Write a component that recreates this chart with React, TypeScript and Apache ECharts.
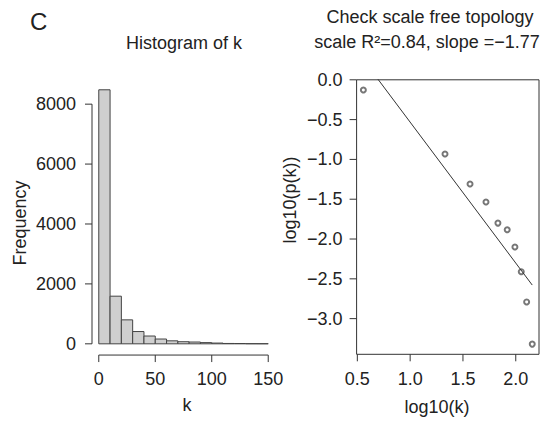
import React, { useEffect, useRef } from "react";
import * as echarts from "echarts";

// Histogram of k (bins of width 10 from 0 to 150)
const binStarts = [0, 10, 20, 30, 40, 50, 60, 70, 80, 90, 100, 110, 120, 130, 140];
const binWidth = 10;
const binCounts = [8480, 1590, 800, 410, 260, 160, 100, 70, 60, 40, 25, 12, 10, 5, 4];
const histYTicks = [0, 2000, 4000, 6000, 8000];
const histXTicks = [0, 50, 100, 150];

// Scale free topology
const logK = [0.557, 1.33, 1.567, 1.718, 1.831, 1.919, 1.992, 2.052, 2.103, 2.156];
const logPk = [-0.128, -0.932, -1.309, -1.535, -1.8, -1.883, -2.1, -2.41, -2.79, -3.32];
const fitSlope = -1.77;
const fitIntercept = 1.238;
const sfXTicks = [0.5, 1.0, 1.5, 2.0];
const sfYTicks = [-3.0, -2.5, -2.0, -1.5, -1.0, -0.5, 0.0];

const FONT = "'Liberation Sans', Arial, Helvetica, sans-serif";
const TEXT = "#222222";
const AXIS = "#333333";

const H_XMIN = -6;
const H_XMAX = 156;
const H_YMIN = -340;
const H_YMAX = 8840;
const H_XLINE = -375;
const S_XMIN = 0.493;
const S_XMAX = 2.22;
const S_YMIN = -3.448;
const S_YMAX = 0.0;

const fmt1 = (v: number) => {
  const s = Math.abs(v).toFixed(1);
  return v < -1e-9 ? "\u2212" + s : s;
};

const TICK_LEN = 7;

function tickSeries(
  xAxisIndex: number,
  points: number[][],
  dir: "left" | "down"
) {
  return {
    type: "custom",
    xAxisIndex,
    yAxisIndex: xAxisIndex,
    data: points,
    silent: true,
    clip: false,
    renderItem: (params: any, api: any) => {
      const p = api.coord([api.value(0), api.value(1)]);
      const shape =
        dir === "left"
          ? { x1: p[0] - TICK_LEN, y1: p[1], x2: p[0], y2: p[1] }
          : { x1: p[0], y1: p[1], x2: p[0], y2: p[1] + TICK_LEN };
      return {
        type: "line",
        shape,
        style: { stroke: AXIS, lineWidth: 1 },
      };
    },
  };
}

export default function App() {
  const ref = useRef<HTMLDivElement>(null);
  useEffect(() => {
    if (!ref.current) return;
    const chart = echarts.init(ref.current, null, { renderer: "svg" });
    const histData = binStarts.map((s, i) => [s, s + binWidth, binCounts[i]]);
    const scatterData = logK.map((x, i) => [x, logPk[i]]);
    const x0 = logK[0];
    const x1 = logK[logK.length - 1];
    const fitData = [
      [x0, fitIntercept + fitSlope * x0],
      [x1, fitIntercept + fitSlope * x1],
    ];
    const axisLabelStyle = { color: TEXT, fontSize: 18, fontFamily: FONT };
    const baseAxis = {
      type: "value",
      splitLine: { show: false },
      axisLine: { show: false },
      axisTick: { show: false },
    };
    chart.setOption({
      animation: false,
      backgroundColor: "#ffffff",
      grid: [
        { left: 92, top: 79, width: 183, height: 275, containLabel: false },
        {
          left: 356.6,
          top: 79.8,
          width: 182.4,
          height: 274.5,
          containLabel: false,
          show: true,
          borderColor: AXIS,
          borderWidth: 1,
          backgroundColor: "transparent",
        },
      ],
      xAxis: [
        {
          ...baseAxis,
          gridIndex: 0,
          min: H_XMIN,
          max: H_XMAX,
          axisLabel: {
            ...axisLabelStyle,
            margin: 16,
            customValues: histXTicks,
            formatter: (v: number) => String(v),
          },
        },
        {
          ...baseAxis,
          gridIndex: 1,
          min: S_XMIN,
          max: S_XMAX,
          axisLabel: {
            ...axisLabelStyle,
            margin: 16,
            customValues: sfXTicks,
            formatter: (v: number) => fmt1(v),
          },
        },
      ],
      yAxis: [
        {
          ...baseAxis,
          gridIndex: 0,
          min: H_YMIN,
          max: H_YMAX,
          axisLabel: {
            ...axisLabelStyle,
            margin: 16,
            customValues: histYTicks,
            formatter: (v: number) => String(v),
          },
        },
        {
          ...baseAxis,
          gridIndex: 1,
          min: S_YMIN,
          max: S_YMAX,
          axisLabel: {
            ...axisLabelStyle,
            margin: 14,
            customValues: sfYTicks,
            formatter: (v: number) => fmt1(v),
          },
        },
      ],
      series: [
        {
          type: "custom",
          xAxisIndex: 0,
          yAxisIndex: 0,
          data: histData,
          silent: true,
          renderItem: (params: any, api: any) => {
            const a = api.coord([api.value(0), api.value(2)]);
            const b = api.coord([api.value(1), 0]);
            return {
              type: "rect",
              shape: { x: a[0], y: a[1], width: b[0] - a[0], height: b[1] - a[1] },
              style: { fill: "#cfcfcf", stroke: "#444444", lineWidth: 1 },
            };
          },
        },
        {
          // y axis line (from first to last tick), R style
          type: "line",
          xAxisIndex: 0,
          yAxisIndex: 0,
          data: [
            [H_XMIN, histYTicks[0]],
            [H_XMIN, histYTicks[histYTicks.length - 1]],
          ],
          symbol: "none",
          clip: false,
          silent: true,
          lineStyle: { color: AXIS, width: 1 },
        },
        {
          // x axis line (from first to last tick)
          type: "line",
          xAxisIndex: 0,
          yAxisIndex: 0,
          data: [
            [histXTicks[0], H_XLINE],
            [histXTicks[histXTicks.length - 1], H_XLINE],
          ],
          symbol: "none",
          clip: false,
          silent: true,
          lineStyle: { color: AXIS, width: 1 },
        },
        tickSeries(0, histYTicks.map((v) => [H_XMIN, v]), "left"),
        tickSeries(0, histXTicks.map((v) => [v, H_XLINE]), "down"),
        tickSeries(1, sfYTicks.map((v) => [S_XMIN, v]), "left"),
        tickSeries(1, sfXTicks.map((v) => [v, S_YMIN]), "down"),
        {
          type: "scatter",
          xAxisIndex: 1,
          yAxisIndex: 1,
          data: scatterData,
          symbol: "emptyCircle",
          symbolSize: 5,
          silent: true,
          itemStyle: { color: "#555555", borderColor: "#555555", borderWidth: 1 },
        },
        {
          type: "line",
          xAxisIndex: 1,
          yAxisIndex: 1,
          data: fitData,
          symbol: "none",
          clip: true,
          silent: true,
          lineStyle: { color: AXIS, width: 1 },
        },
      ],
      graphic: [
        {
          type: "text",
          left: 30,
          top: 9,
          style: { text: "C", fill: TEXT, font: `24px ${FONT}` },
        },
        {
          type: "text",
          x: 184,
          y: 43,
          style: {
            text: "Histogram of k",
            fill: TEXT,
            font: `18px ${FONT}`,
            align: "center",
            verticalAlign: "middle",
          },
        },
        {
          type: "text",
          x: 187,
          y: 405,
          style: {
            text: "k",
            fill: TEXT,
            font: `18px ${FONT}`,
            align: "center",
            verticalAlign: "middle",
          },
        },
        {
          type: "text",
          x: 20,
          y: 223,
          rotation: Math.PI / 2,
          style: {
            text: "Frequency",
            fill: TEXT,
            font: `18px ${FONT}`,
            align: "center",
            verticalAlign: "middle",
          },
        },
        {
          type: "text",
          x: 430,
          y: 17,
          style: {
            text: "Check scale free topology",
            fill: TEXT,
            font: `18px ${FONT}`,
            align: "center",
            verticalAlign: "middle",
          },
        },
        {
          type: "text",
          x: 427,
          y: 42,
          style: {
            text: "scale R\u00B2=0.84, slope =\u22121.77",
            fill: TEXT,
            font: `18px ${FONT}`,
            align: "center",
            verticalAlign: "middle",
          },
        },
        {
          type: "text",
          x: 437,
          y: 407,
          style: {
            text: "log10(k)",
            fill: TEXT,
            font: `18px ${FONT}`,
            align: "center",
            verticalAlign: "middle",
          },
        },
        {
          type: "text",
          x: 290,
          y: 200,
          rotation: Math.PI / 2,
          style: {
            text: "log10(p(k))",
            fill: TEXT,
            font: `18px ${FONT}`,
            align: "center",
            verticalAlign: "middle",
          },
        },
      ],
    });
    return () => chart.dispose();
  }, []);
  return <div ref={ref} style={{ width: 558, height: 421, position: "absolute", left: 0, top: 0 }} />;
}
